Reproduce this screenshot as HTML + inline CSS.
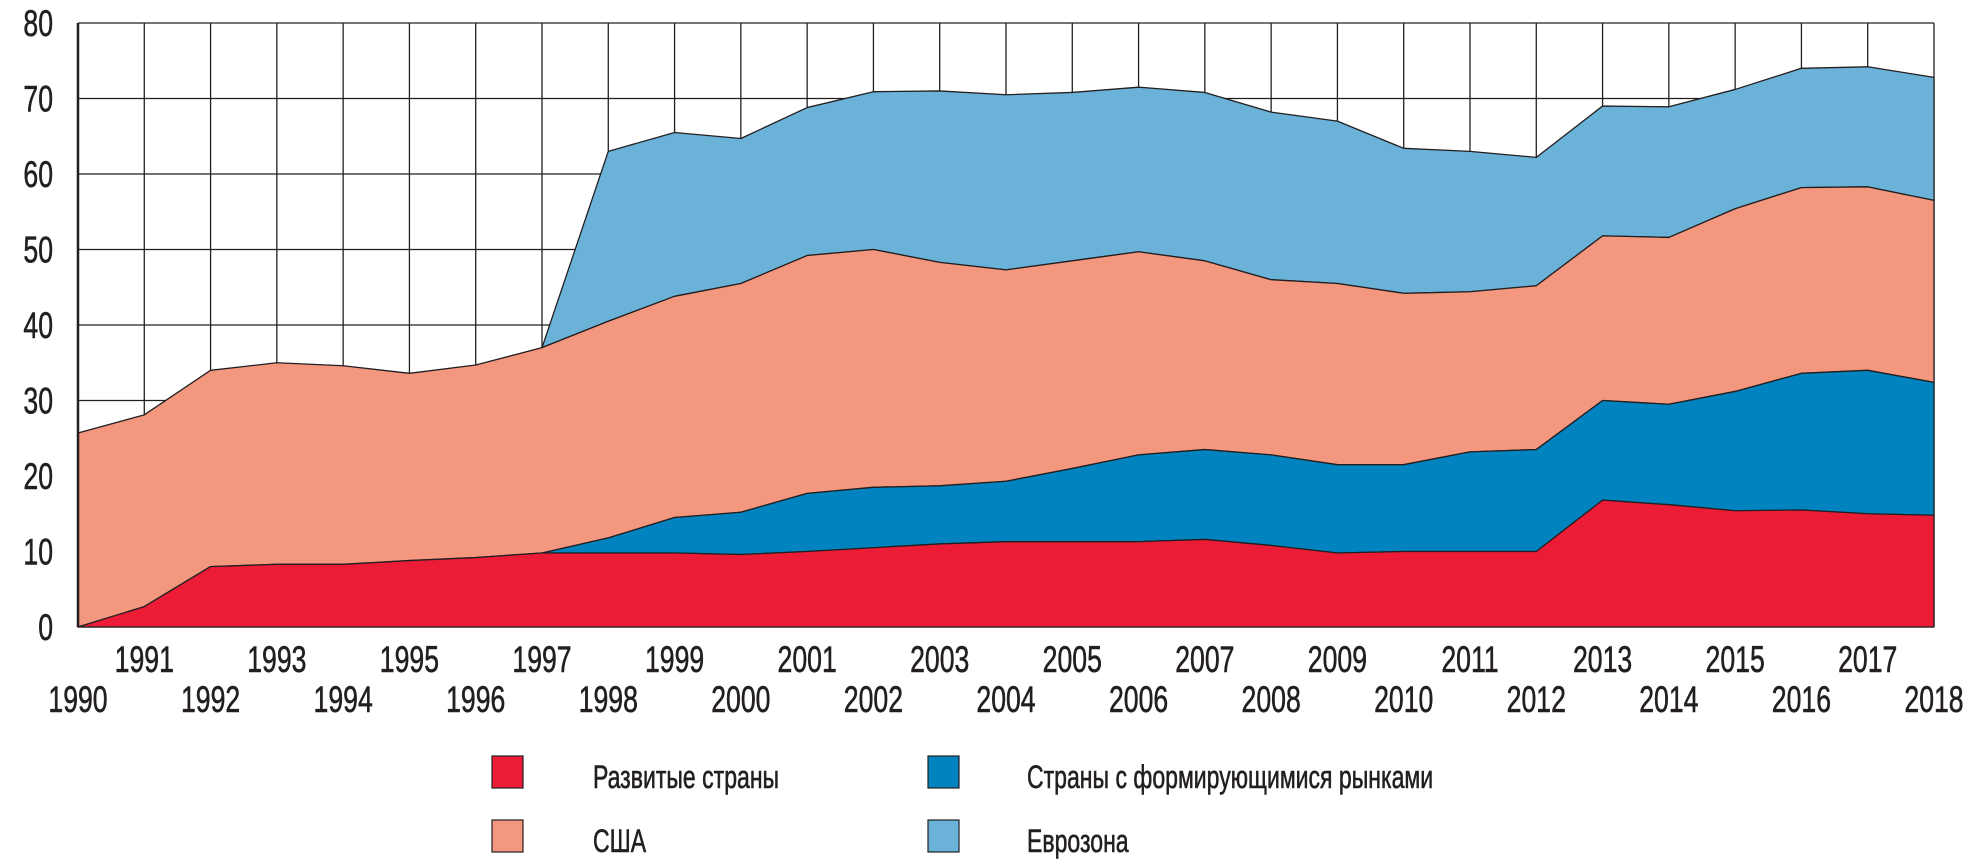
<!DOCTYPE html>
<html><head><meta charset="utf-8"><style>
html,body{margin:0;padding:0;background:#fff;}
svg{display:block;}
text{font-family:"Liberation Sans",sans-serif;fill:#231f20;stroke:#231f20;stroke-width:0.6;}
</style></head><body>
<svg id="s" width="1984" height="866" xmlns="http://www.w3.org/2000/svg"></svg>
<script>
const X0=78,DX=(1934-78)/28,Y0=627,K=(627-23)/80;
const red=[0,2.7,8,8.3,8.3,8.8,9.2,9.8,9.8,9.8,9.6,10,10.5,11,11.3,11.3,11.3,11.6,10.8,9.8,10,10,10,16.8,16.2,15.4,15.5,15,14.8];
const em=[null,null,null,null,null,null,null,9.8,11.8,14.5,15.2,17.7,18.5,18.7,19.3,21,22.8,23.5,22.8,21.5,21.5,23.2,23.5,30,29.5,31.2,33.6,34,32.4];
const us=[25.7,28.1,34,35,34.6,33.6,34.7,37,40.5,43.8,45.5,49.2,50,48.3,47.3,48.5,49.7,48.5,46,45.5,44.2,44.4,45.2,51.8,51.6,55.4,58.2,58.3,56.5];
const ez=[null,null,null,null,null,null,null,37,63,65.5,64.7,68.8,70.9,71,70.5,70.8,71.5,70.8,68.2,67,63.4,63,62.2,69,68.9,71.2,74,74.2,72.8];
const x=i=>X0+i*DX, y=v=>Y0-v*K;
const SX=0.72;
function T(tx,ty,size,anchor,s){return `<text transform="translate(${tx},${ty}) scale(${SX},1)" font-size="${size}" text-anchor="${anchor}">${s}</text>`;}
let h='';
for(let i=0;i<=28;i++)h+=`<line x1="${x(i)}" y1="23" x2="${x(i)}" y2="${Y0}" stroke="#231f20" stroke-width="1.3"/>`;
for(let v=0;v<=80;v+=10)h+=`<line x1="${X0}" y1="${y(v)}" x2="${x(28)}" y2="${y(v)}" stroke="#231f20" stroke-width="1.3"/>`;
function area(top,bot,from,col){
 let p='';for(let i=from;i<=28;i++)p+=(p?'L':'M')+x(i)+','+y(top[i]);
 for(let i=28;i>=from;i--)p+='L'+x(i)+','+y(bot?bot[i]:0);
 h+=`<path d="${p}Z" fill="${col}" stroke="#231f20" stroke-width="1.3" stroke-linejoin="round"/>`;
}
area(ez,us,7,'#6ab2d8');
area(us,em.map((v,i)=>v==null?red[i]:v),0,'#f4977f');
area(em,red,7,'#0083be');
area(red,null,0,'#ed1c36');
h+=`<line x1="${X0}" y1="23" x2="${X0}" y2="${Y0}" stroke="#231f20" stroke-width="2.5"/>`;
for(let v=0;v<=80;v+=10)h+=T(53,y(v)+13,37,'end',v);
for(let i=0;i<=28;i++){const yy=(i%2)?672:712;h+=T(x(i),yy,37,'middle',1990+i);}
const L=[[492,756,'#ed1c36','Развитые страны'],[928,756,'#0083be','Страны с формирующимися рынками'],[492,820,'#f4977f','США'],[928,820,'#6ab2d8','Еврозона']];
L.forEach((l,j)=>{h+=`<rect x="${l[0]}" y="${l[1]}" width="31" height="32" fill="${l[2]}" stroke="#231f20" stroke-width="1.2"/>`+T(j%2?1027:593,l[1]+32,32,'start',l[3]);});
document.getElementById('s').innerHTML=h;
</script>
</body></html>
